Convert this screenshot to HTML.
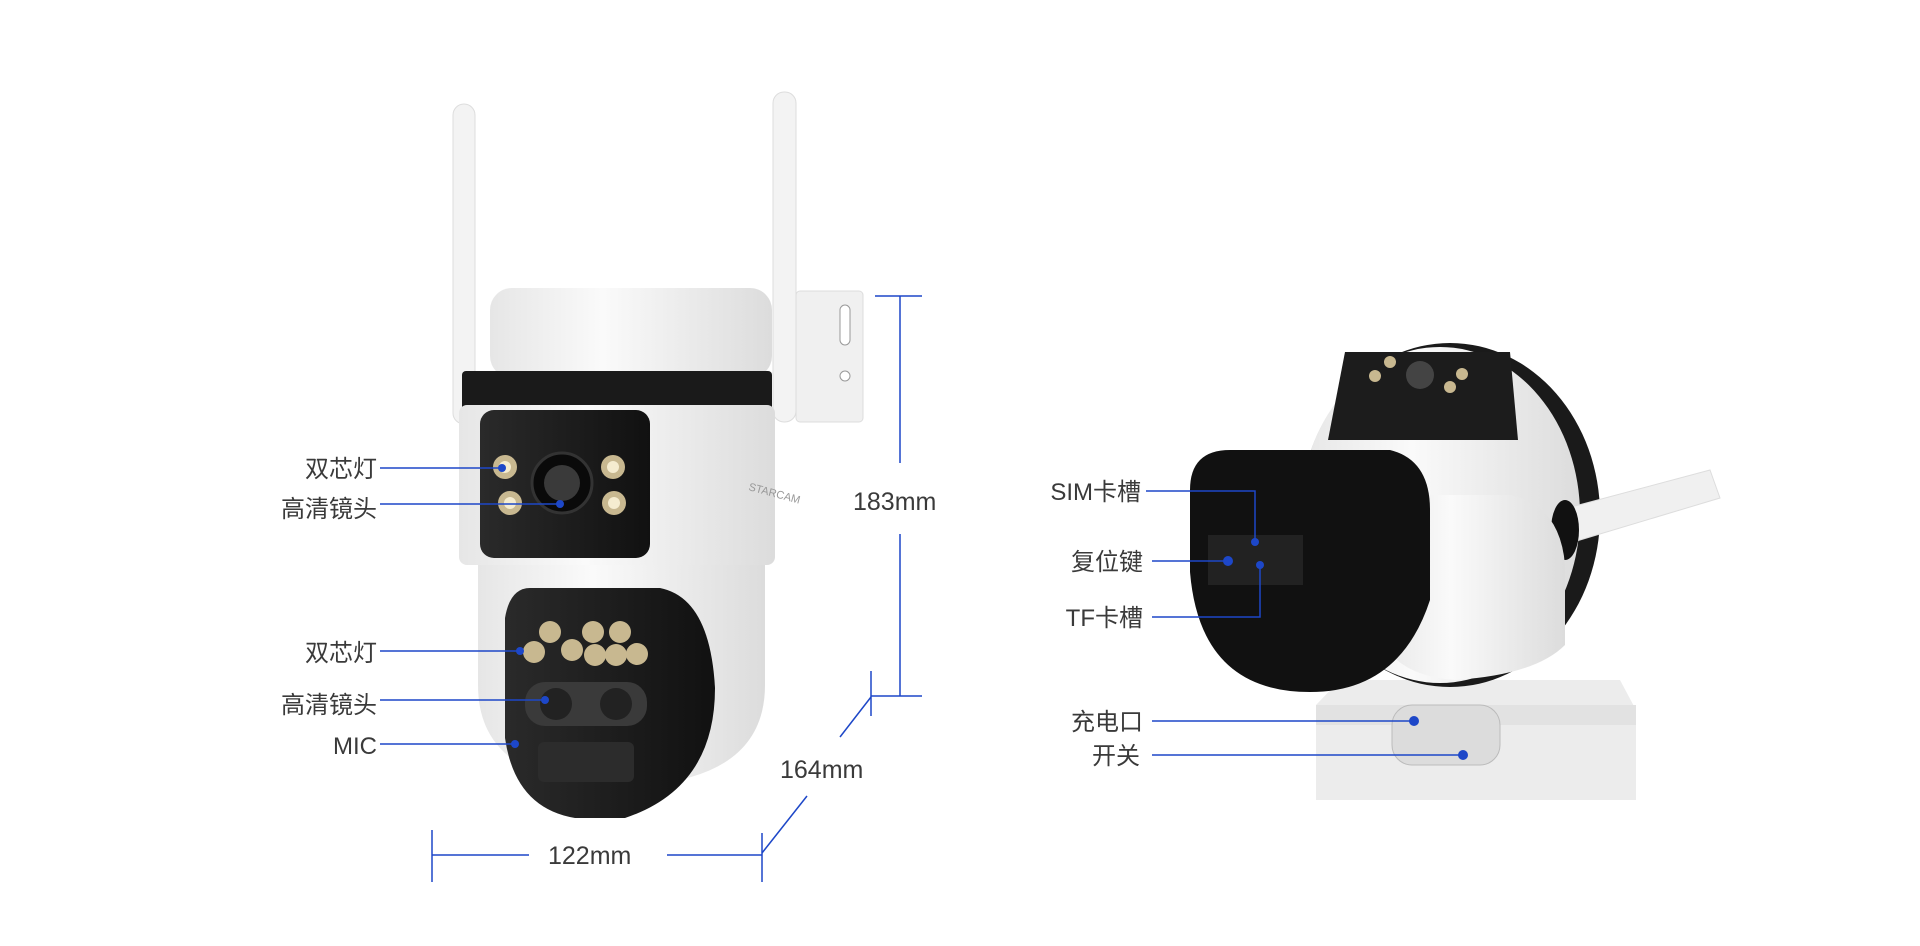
<!DOCTYPE html>
<html><head><meta charset="utf-8"><style>
html,body{margin:0;padding:0;background:#fff;width:1920px;height:946px;overflow:hidden}
svg{display:block}
text{font-family:"Liberation Sans","Noto Sans CJK SC",sans-serif;fill:#3a3a3a}
</style></head><body>
<svg width="1920" height="946" viewBox="0 0 1920 946" xmlns="http://www.w3.org/2000/svg">
<defs>
<linearGradient id="wg" x1="0" x2="1"><stop offset="0" stop-color="#e6e6e6"/><stop offset=".4" stop-color="#fafafa"/><stop offset="1" stop-color="#dcdcdc"/></linearGradient>
<linearGradient id="bg" x1="0" x2="1"><stop offset="0" stop-color="#2a2a2a"/><stop offset="1" stop-color="#111"/></linearGradient>
</defs>
<!-- LEFT CAMERA -->
<rect x="453" y="104" width="22" height="320" rx="11" fill="#f3f3f3" stroke="#ddd"/>
<rect x="773" y="92" width="23" height="330" rx="11" fill="#f3f3f3" stroke="#ddd"/>
<rect x="796" y="291" width="67" height="131" rx="4" fill="#f0f0f0" stroke="#ddd"/>
<rect x="840" y="305" width="10" height="40" rx="5" fill="#fff" stroke="#999"/>
<circle cx="845" cy="376" r="5" fill="#fff" stroke="#999"/>
<rect x="490" y="288" width="282" height="90" rx="22" fill="url(#wg)"/>
<rect x="462" y="371" width="310" height="42" rx="4" fill="#1a1a1a"/>
<rect x="459" y="405" width="316" height="160" rx="8" fill="url(#wg)"/>
<rect x="480" y="410" width="170" height="148" rx="14" fill="url(#bg)"/>
<circle cx="505" cy="467" r="12" fill="#c8b890"/><circle cx="505" cy="467" r="6" fill="#f5ecd0"/>
<circle cx="613" cy="467" r="12" fill="#c8b890"/><circle cx="613" cy="467" r="6" fill="#f5ecd0"/>
<circle cx="510" cy="503" r="12" fill="#c8b890"/><circle cx="510" cy="503" r="6" fill="#f5ecd0"/>
<circle cx="614" cy="503" r="12" fill="#c8b890"/><circle cx="614" cy="503" r="6" fill="#f5ecd0"/>
<circle cx="562" cy="483" r="30" fill="#0a0a0a" stroke="#333" stroke-width="3"/><circle cx="562" cy="483" r="18" fill="#3a3a3a"/>
<text x="748" y="490" font-size="11" style="fill:#999" transform="rotate(15 748 490)">STARCAM</text>
<path d="M478 565 h287 v120 q0 90 -120 100 h-50 q-117 -10 -117 -100z" fill="url(#wg)"/>
<path d="M530 588 h130 q50 10 55 100 q0 100 -90 130 h-50 q-60 -10 -70 -80 v-120 q5 -30 25 -30z" fill="url(#bg)"/>
<g fill="#c8b890">
<circle cx="550" cy="632" r="11"/><circle cx="593" cy="632" r="11"/><circle cx="620" cy="632" r="11"/><circle cx="572" cy="650" r="11"/><circle cx="595" cy="655" r="11"/><circle cx="616" cy="655" r="11"/><circle cx="534" cy="652" r="11"/><circle cx="637" cy="654" r="11"/>
</g>
<rect x="525" y="682" width="122" height="44" rx="20" fill="#3a3a3a"/>
<circle cx="556" cy="704" r="16" fill="#222"/><circle cx="616" cy="704" r="16" fill="#222"/>
<rect x="538" y="742" width="96" height="40" rx="6" fill="#2c2c2c"/>
<!-- left labels -->
<g stroke="#1d47c8" stroke-width="1.5" fill="none">
<line x1="380" y1="468" x2="502" y2="468"/><line x1="380" y1="504" x2="560" y2="504"/>
<line x1="380" y1="651" x2="520" y2="651"/><line x1="380" y1="700" x2="545" y2="700"/><line x1="380" y1="744" x2="515" y2="744"/>
</g>
<g fill="#1d47c8"><circle cx="502" cy="468" r="4"/><circle cx="560" cy="504" r="4"/><circle cx="520" cy="651" r="4"/><circle cx="545" cy="700" r="4"/><circle cx="515" cy="744" r="4"/></g>
<g font-size="24" text-anchor="end">
<text x="377" y="477">双芯灯</text><text x="377" y="517">高清镜头</text>
<text x="377" y="661">双芯灯</text><text x="377" y="713">高清镜头</text><text x="377" y="754">MIC</text>
</g>
<!-- dimensions -->
<g stroke="#1d47c8" stroke-width="1.5" fill="none">
<line x1="875" y1="296" x2="922" y2="296"/><line x1="900" y1="296" x2="900" y2="463"/>
<line x1="900" y1="534" x2="900" y2="696"/><line x1="871" y1="696" x2="922" y2="696"/>
<line x1="871" y1="671" x2="871" y2="716"/><line x1="871" y1="697" x2="840" y2="737"/>
<line x1="807" y1="796" x2="762" y2="853"/><line x1="762" y1="833" x2="762" y2="882"/>
<line x1="762" y1="855" x2="667" y2="855"/><line x1="529" y1="855" x2="432" y2="855"/><line x1="432" y1="830" x2="432" y2="882"/>
</g>
<g font-size="25"><text x="853" y="510">183mm</text><text x="780" y="778">164mm</text><text x="548" y="864">122mm</text></g>
<!-- RIGHT CAMERA -->
<path d="M1340 680 h280 l16 30 v90 h-320 v-95z" fill="#ececec"/>
<path d="M1316 705 h320 v20 h-320z" fill="#e2e2e2"/>
<rect x="1392" y="705" width="108" height="60" rx="20" fill="#dcdcdc" stroke="#bbb"/>
<ellipse cx="1450" cy="515" rx="150" ry="172" fill="#1a1a1a"/>
<ellipse cx="1440" cy="515" rx="140" ry="168" fill="url(#wg)"/>
<path d="M1560 510 l150 -40 l10 28 l-150 45z" fill="#f0f0f0" stroke="#ddd"/>
<ellipse cx="1565" cy="530" rx="14" ry="30" fill="#111"/>
<path d="M1345 352 h165 l8 88 h-190z" fill="#1c1c1c"/>
<circle cx="1420" cy="375" r="14" fill="#444"/>
<g fill="#c8b890"><circle cx="1390" cy="362" r="6"/><circle cx="1375" cy="376" r="6"/><circle cx="1462" cy="374" r="6"/><circle cx="1450" cy="387" r="6"/></g>
<path d="M1380 495 h130 q50 10 55 70 v80 q-30 30 -110 35 q-70 -5 -80 -60z" fill="url(#wg)"/>
<path d="M1230 450 h160 q40 10 40 60 v90 q-30 92 -120 92 q-110 0 -120 -120 v-82 q0 -40 40 -40z" fill="#111"/>
<rect x="1208" y="535" width="95" height="50" fill="#222"/>
<!-- right labels -->
<g stroke="#1d47c8" stroke-width="1.5" fill="none">
<polyline points="1146,491 1255,491 1255,540"/><line x1="1152" y1="561" x2="1228" y2="561"/>
<polyline points="1152,617 1260,617 1260,566"/><line x1="1152" y1="721" x2="1414" y2="721"/><line x1="1152" y1="755" x2="1463" y2="755"/>
</g>
<g fill="#1d47c8"><circle cx="1255" cy="542" r="4"/><circle cx="1228" cy="561" r="5"/><circle cx="1260" cy="565" r="4"/><circle cx="1414" cy="721" r="5"/><circle cx="1463" cy="755" r="5"/></g>
<g font-size="24" text-anchor="end">
<text x="1141" y="500">SIM卡槽</text><text x="1143" y="570">复位键</text><text x="1143" y="626">TF卡槽</text>
<text x="1143" y="730">充电口</text><text x="1140" y="764">开关</text>
</g>
</svg>
</body></html>
